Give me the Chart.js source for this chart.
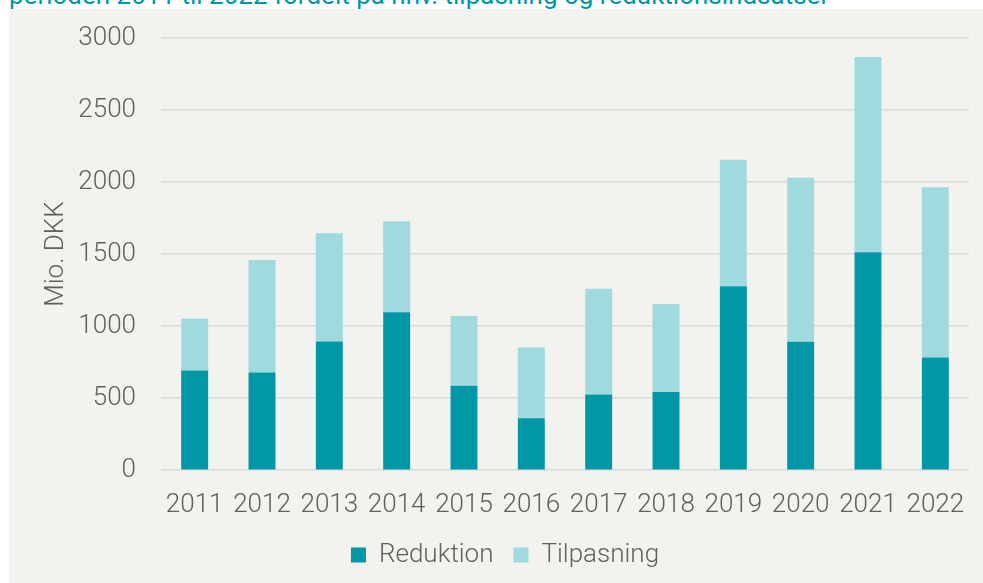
<!DOCTYPE html>
<html>
<head>
<meta charset="utf-8">
<script src="https://cdn.jsdelivr.net/npm/chart.js@4.4.1/dist/chart.umd.min.js"></script>
<style>
  html, body { margin: 0; padding: 0; background: #ffffff; overflow: hidden; width: 983px; height: 583px; }
  #title { position: absolute; left: 9px; top: -18px; font-family: Roboto, sans-serif; font-size: 26px; color: #0097a8; white-space: nowrap; line-height: 26px; }
  #panel { position: absolute; left: 9px; top: 9px; width: 997px; height: 574px; background: #f2f2ee; }
  #wrap { position: absolute; left: 0; top: 0; width: 997px; height: 574px; }
</style>
</head>
<body>
<div id="title">perioden 2011 til 2022 fordelt på hhv. tilpasning og reduktionsindsatser</div>
<div id="panel"><div id="wrap"><canvas id="c"></canvas></div></div>
<script>
const years = ["2011","2012","2013","2014","2015","2016","2017","2018","2019","2020","2021","2022"];
const reduktion = [692, 678, 894, 1096, 586, 361, 526, 542, 1276, 892, 1512, 783];
const totals    = [1051, 1459, 1645, 1728, 1071, 852, 1260, 1153, 2155, 2030, 2868, 1964];
const tilpasning = totals.map((t, i) => t - reduktion[i]);
const yTicks = [0, 500, 1000, 1500, 2000, 2500, 3000];

const font = { family: "Roboto", size: 26, weight: 300 };
const textColor = "#606060";

new Chart(document.getElementById("c"), {
  type: "bar",
  data: {
    labels: years,
    datasets: [
      { label: "Reduktion", data: reduktion, backgroundColor: "#0097a7", borderWidth: 0,
        barPercentage: 0.8, categoryPercentage: 0.5 },
      { label: "Tilpasning", data: tilpasning, backgroundColor: "#a0d9de", borderWidth: 0,
        barPercentage: 0.8, categoryPercentage: 0.5 }
    ]
  },
  options: {
    responsive: true,
    maintainAspectRatio: false,
    animation: false,
    layout: { padding: { left: 32, right: 37, top: 29, bottom: 5 } },
    plugins: {
      legend: {
        position: "bottom",
        labels: { font: { family: "Roboto", size: 26, weight: 300, lineHeight: 1.0 }, color: textColor, boxWidth: 15, boxHeight: 15, padding: 20 }
      },
      tooltip: { enabled: false }
    },
    scales: {
      x: {
        stacked: true,
        afterFit: (axis) => { axis.height = 51.8; },
        grid: { display: false },
        border: { display: false },
        ticks: { font: font, color: textColor, padding: 11.4, maxRotation: 0 }
      },
      y: {
        stacked: true,
        min: 0, max: 3000,
        afterBuildTicks: (axis) => { axis.ticks = yTicks.map(v => ({ value: v })); },
        afterFit: (axis) => { axis.width = 120; },
        grid: { color: "#d9d9d9", lineWidth: 1.5, drawTicks: true, tickLength: 25, tickColor: "rgba(0,0,0,0)" },
        border: { display: false },
        ticks: { font: font, color: textColor, padding: 0, callback: (v) => String(v) },
        title: { display: true, text: "Mio. DKK", font: font, color: textColor, padding: { top: 0, bottom: 6 } }
      }
    }
  }
});
</script>
</body>
</html>
